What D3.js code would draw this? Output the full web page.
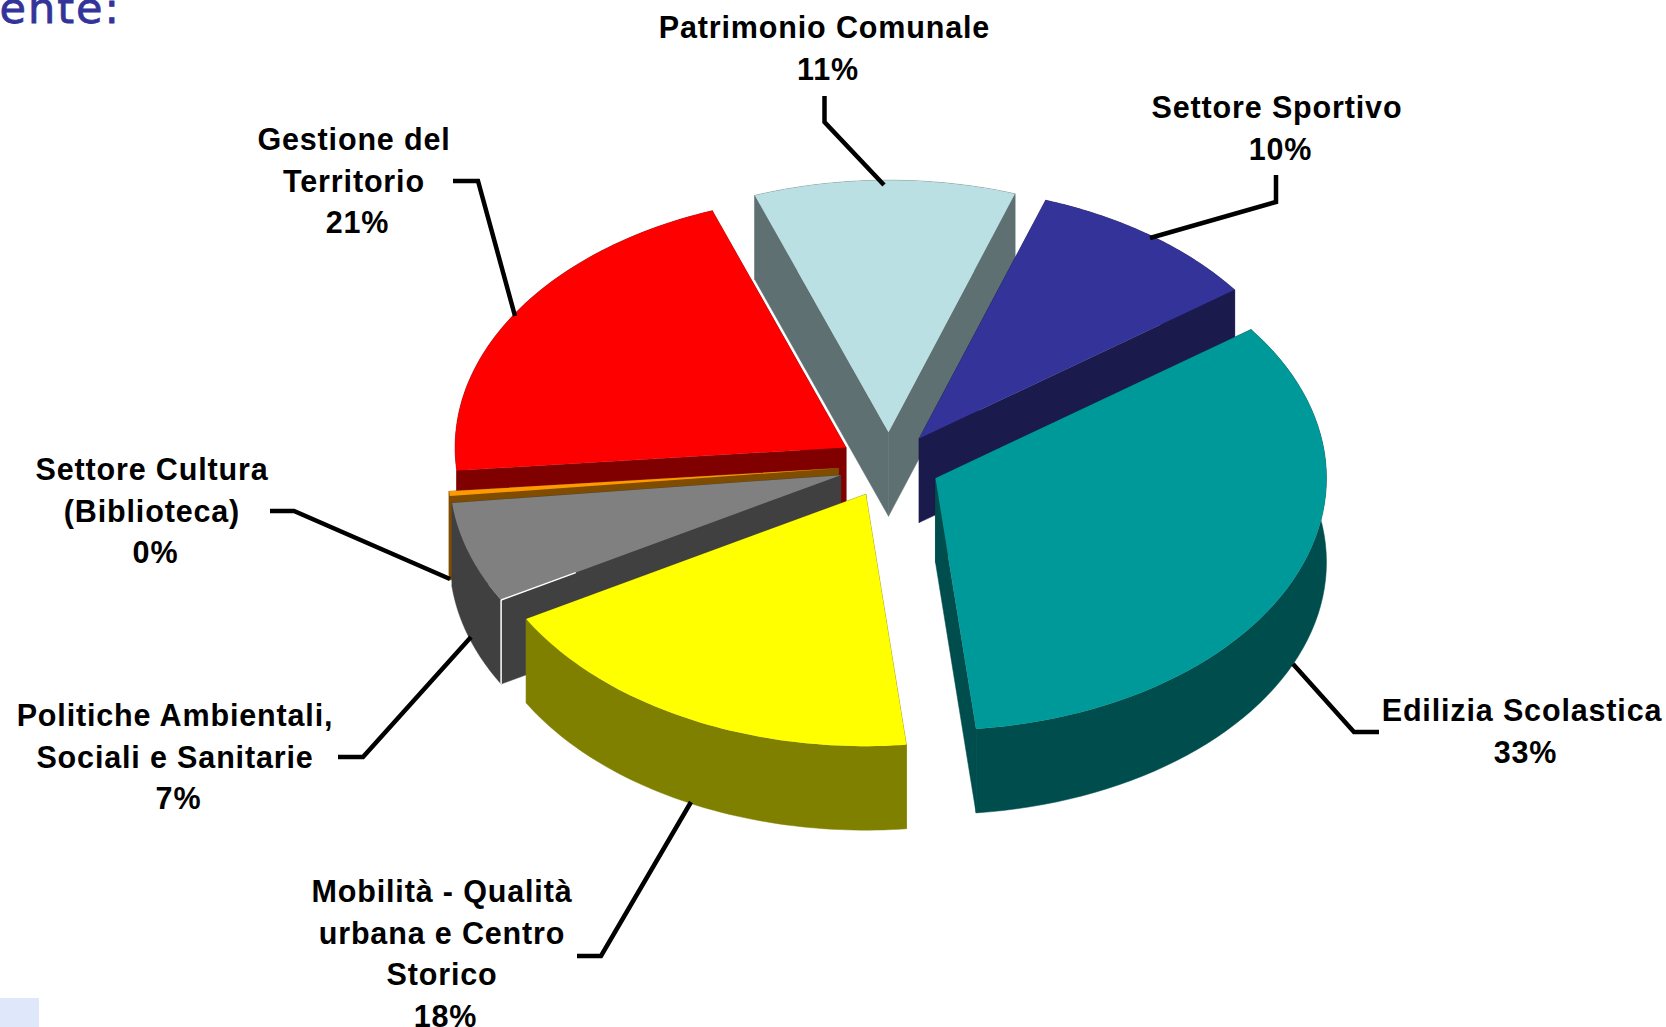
<!DOCTYPE html>
<html>
<head>
<meta charset="utf-8">
<script src="https://d3js.org/d3.v7.min.js"></script>
<style>
  html, body { margin: 0; padding: 0; background: #fff; overflow: hidden; }
  svg { display: block; }
  .label { font-family: "Liberation Sans", Arial, sans-serif; font-weight: bold; font-size: 30.5px; letter-spacing: 0.85px; fill: #000; }
  .heading { font-family: "DejaVu Sans", sans-serif; font-size: 43px; letter-spacing: 2px; fill: #333399; stroke: #333399; stroke-width: 0.8px; }
</style>
</head>
<body>
<svg id="chart" width="1666" height="1027"></svg>
<script>
// values, in slice order, clockwise from the Edilizia slice
var names = ['Edilizia Scolastica', 'Mobilità', 'Politiche', 'Cultura', 'Gestione', 'Patrimonio', 'Sportivo'];
var values = [33.4, 18.4, 6.5, 0.3, 20.9, 10.8, 9.7];
var topColors = ['#009999', '#ffff00', '#808080', '#ff9900', '#ff0000', '#bbe0e3', '#333399'];
var sideColors = ['#004d4d', '#808000', '#404040', '#804c00', '#800000', '#5e7072', '#1a1a4d'];
var labelLines = [
  ['Edilizia Scolastica'],
  ['Mobilità - Qualità', 'urbana e Centro', 'Storico'],
  ['Politiche Ambientali,', 'Sociali e Sanitarie'],
  ['Settore Cultura', '(Biblioteca)'],
  ['Gestione del', 'Territorio'],
  ['Patrimonio Comunale'],
  ['Settore Sportivo']
];

// label centres and leader lines, same order
var labelX = [1522, 442, 175, 152, 354, 824.5, 1277];
var labelY = [710, 891, 715, 469, 139, 27, 107];
var leaders = [
  [[1293, 664], [1354, 732], [1379, 732]],
  [[577, 956], [601, 956], [691, 802]],
  [[338, 757], [363, 757], [471, 637]],
  [[270, 511], [294, 511], [450, 579]],
  [[453, 181], [478, 181], [515, 316]],
  [[824.5, 96], [824.5, 122], [884, 185]],
  [[1276, 175], [1276, 202], [1150, 238]]
];

var cx = 889, cy = 465, rx = 391, ry = 252, depth = 84, explode = 0.13, lineGap = 41.6;
var percentShift = 3.5;
var startAngle = 53.8 * Math.PI / 180;
// back to front
var drawOrder = [4, 5, 6, 3, 2, 0, 1];

var svg = d3.select('#chart');
svg.append('rect').attr('width', 1666).attr('height', 1027).attr('fill', '#fff');

svg.append('rect').attr('x', 0).attr('y', 998).attr('width', 39).attr('height', 29).attr('fill', '#dfe7fa');
svg.append('text').attr('class', 'heading').attr('x', 121).attr('y', 23).attr('text-anchor', 'end').text('dente:');

var pie = d3.pie().sort(null).startAngle(startAngle).endAngle(startAngle + 2 * Math.PI);
var slices = pie(values);

var xScale = d3.scaleLinear().domain([-1, 1]).range([cx - rx, cx + rx]);
var yScale = d3.scaleLinear().domain([-1, 1]).range([cy - ry, cy + ry]);
var path = d3.line();

function project(a, r, ox, oy, z) {
  return [xScale(r * Math.sin(a) + ox), yScale(-r * Math.cos(a) + oy) + z];
}

function prism(d) {
  var mid = (d.startAngle + d.endAngle) / 2;
  var ox = explode * Math.sin(mid), oy = -explode * Math.cos(mid);
  var steps = d3.range(0, 61).map(function(i) {
    return d.startAngle + (d.endAngle - d.startAngle) * i / 60;
  });
  var top = steps.map(function(a) { return project(a, 1, ox, oy, 0); });
  var bottom = steps.map(function(a) { return project(a, 1, ox, oy, depth); });
  var apex = project(0, 0, ox, oy, 0);
  var apexLow = project(0, 0, ox, oy, depth);
  return {
    top: path([apex].concat(top)) + 'Z',
    // radial cut faces and the rim, all the same tone so order does not matter
    sides: [
      path([apex, top[0], bottom[0], apexLow]) + 'Z',
      path([apex, top[60], bottom[60], apexLow]) + 'Z',
      path(top.concat(bottom.slice().reverse())) + 'Z'
    ],
    corner: path([top[0], bottom[0]]),
    rimEdge: path([top[0], [top[0][0] + (apex[0] - top[0][0]) * 0.22, top[0][1] + (apex[1] - top[0][1]) * 0.22]])
  };
}

var pieGroup = svg.append('g');

drawOrder.forEach(function(i) {
  var shape = prism(slices[i]);
  var g = pieGroup.append('g').attr('class', 'slice').attr('data-name', names[i]);
  g.selectAll('path.side').data(shape.sides).enter().append('path')
    .attr('class', 'side')
    .attr('d', function(d) { return d; })
    .attr('fill', sideColors[i])
    .attr('stroke', sideColors[i])
    .attr('stroke-width', 0.5);
  g.append('path')
    .attr('class', 'top')
    .attr('d', shape.top)
    .attr('fill', topColors[i]);
  // the white highlight only shows on the grey slice
  if (names[i] === 'Politiche') {
    g.selectAll('path.edge').data([shape.corner, shape.rimEdge]).enter().append('path')
      .attr('class', 'edge')
      .attr('d', function(d) { return d; })
      .attr('stroke', '#fff')
      .attr('stroke-width', 1.5);
  }
});

svg.selectAll('path.leader').data(leaders).enter().append('path')
  .attr('class', 'leader')
  .attr('d', path)
  .attr('fill', 'none')
  .attr('stroke', '#000')
  .attr('stroke-width', 4.5);

labelLines.forEach(function(lines, i) {
  var text = svg.append('text')
    .attr('class', 'label')
    .attr('text-anchor', 'middle')
    .attr('dominant-baseline', 'central');
  lines.forEach(function(line, j) {
    text.append('tspan')
      .attr('x', labelX[i])
      .attr('y', labelY[i] + j * lineGap)
      .text(line);
  });
  text.append('tspan')
    .attr('x', labelX[i] + percentShift)
    .attr('y', labelY[i] + lines.length * lineGap)
    .text(Math.round(values[i]) + '%');
});
</script>
</body>
</html>
